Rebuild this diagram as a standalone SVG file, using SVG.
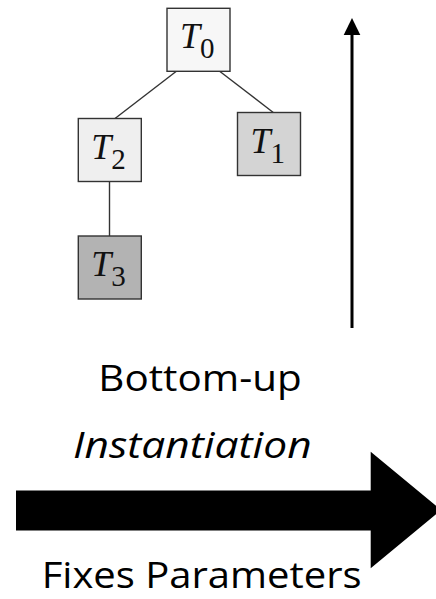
<svg xmlns="http://www.w3.org/2000/svg" width="436" height="599" viewBox="0 0 436 599">
<style>
.box{stroke:#333;stroke-width:1.4}
.edge{stroke:#333;stroke-width:1.4;fill:none}
.tm{font-family:"Liberation Serif","Times New Roman",serif;font-style:italic;font-size:36px;fill:#111}
.ts{font-style:normal;font-size:29px}
.lbl{font-family:"Open Sans",sans-serif;font-size:36.5px;fill:#000;font-variant-ligatures:none}
</style>
<rect width="436" height="599" fill="#fff"/>
<g id="connectors">
<line class="edge" x1="176.7" y1="71" x2="115" y2="118.5"/>
<line class="edge" x1="219.3" y1="71" x2="273.3" y2="112.5"/>
<line class="edge" x1="109.5" y1="181.7" x2="109.5" y2="236"/>
</g>
<g id="T0">
<rect class="box" x="167" y="8.3" width="63" height="63" fill="#f7f7f7"/>
<text class="tm" x="180" y="48.3">T<tspan class="ts" dy="10">0</tspan></text>
</g>
<g id="T1">
<rect class="box" x="237.5" y="112.5" width="63" height="63" fill="#d4d4d4"/>
<text class="tm" x="250.5" y="152.5">T<tspan class="ts" dy="10">1</tspan></text>
</g>
<g id="T2">
<rect class="box" x="78.3" y="118.5" width="63" height="63" fill="#efefef"/>
<text class="tm" x="91.3" y="158.5">T<tspan class="ts" dy="10">2</tspan></text>
</g>
<g id="T3">
<rect class="box" x="78.3" y="236" width="63" height="63" fill="#b3b3b3"/>
<text class="tm" x="91.3" y="276">T<tspan class="ts" dy="10">3</tspan></text>
</g>
<g id="arrows">
<rect x="350.5" y="34" width="3" height="294" fill="#000"/>
<polygon points="343.7,35 360.3,35 352,18" fill="#000"/>
<polygon points="16,490.5 370.7,490.5 370.7,451.7 441,510 370.7,568.3 370.7,530.5 16,530.5" fill="#000"/>
</g>
<g id="labels">
<text class="lbl" x="98.3" y="391" textLength="203.4" lengthAdjust="spacingAndGlyphs">Bottom-up</text>
<text class="lbl" x="73" y="458.3" font-style="italic" textLength="238.7" lengthAdjust="spacingAndGlyphs">Instantiation</text>
<text class="lbl" x="41.7" y="588.3" textLength="320" lengthAdjust="spacingAndGlyphs">Fixes Parameters</text>
</g>
</svg>
